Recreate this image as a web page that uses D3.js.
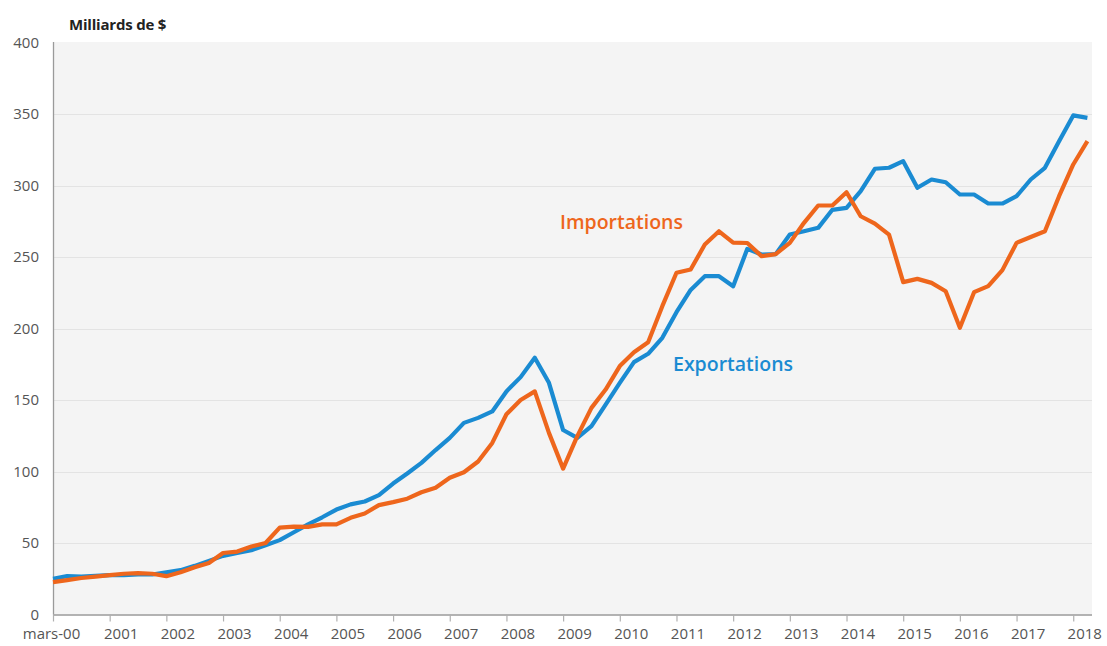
<!DOCTYPE html>
<html>
<head>
<meta charset="utf-8">
<script src="https://cdn.jsdelivr.net/npm/d3@7/dist/d3.min.js"></script>
<style>
  html, body { margin: 0; padding: 0; background: #ffffff; }
  svg { display: block; }
</style>
</head>
<body>
<svg id="chart" width="1107" height="646"></svg>
<script>
// Quarterly periods (March 2000 .. June 2018)
const quarters = [
  "2000-03","2000-06","2000-09","2000-12","2001-03","2001-06","2001-09","2001-12",
  "2002-03","2002-06","2002-09","2002-12","2003-03","2003-06","2003-09","2003-12",
  "2004-03","2004-06","2004-09","2004-12","2005-03","2005-06","2005-09","2005-12",
  "2006-03","2006-06","2006-09","2006-12","2007-03","2007-06","2007-09","2007-12",
  "2008-03","2008-06","2008-09","2008-12","2009-03","2009-06","2009-09","2009-12",
  "2010-03","2010-06","2010-09","2010-12","2011-03","2011-06","2011-09","2011-12",
  "2012-03","2012-06","2012-09","2012-12","2013-03","2013-06","2013-09","2013-12",
  "2014-03","2014-06","2014-09","2014-12","2015-03","2015-06","2015-09","2015-12",
  "2016-03","2016-06","2016-09","2016-12","2017-03","2017-06","2017-09","2017-12",
  "2018-03","2018-06"
];

// Exportations (Milliards de $)
const exportations = [
  25, 26.8, 26.5, 27, 27.5, 27.5, 28, 28,
  29.5, 31, 34, 37.5, 41, 43, 45, 48.5,
  52, 57.5, 63, 68, 73.4, 77, 79, 83.5,
  91.6, 98.6, 106, 115, 123.5, 134, 137.5, 142,
  156, 166, 179.5, 162, 129, 123.5, 131.7, 146.8,
  162, 176.5, 182.3, 193.5, 211.4, 227, 236.6, 236.6,
  229.6, 255.7, 251.7, 252, 265.7, 268, 270.4, 283,
  284.4, 296, 311.7, 312.4, 317, 298.4, 304.2, 302.3,
  293.7, 293.7, 287.4, 287.4, 292.5, 304.2, 312.4, 331,
  349, 347.3
];

// Importations (Milliards de $)
const importations = [
  22.6, 24, 25.5, 26.5, 27.5, 28.5, 29, 28.5,
  26.8, 29.5, 33, 36, 43, 44, 47.5, 50,
  60.8, 61.5, 61.3, 63, 63, 67.6, 70.6, 76.5,
  78.6, 81, 85.5, 88.6, 95.6, 99.5, 107, 120,
  140, 150, 156, 127, 102, 124.7, 144.5, 157.3,
  173.7, 183.4, 190.4, 215.6, 239, 241.3, 258.7, 268,
  260, 259.8, 250.6, 252, 259.9, 273.9, 286, 286,
  295.3, 278.5, 273.4, 265.7, 232.4, 234.7, 231.9, 226,
  200.5, 225.4, 229.6, 240.8, 259.9, 264, 268, 292.5,
  314.7, 331
];

// Axis tick labels
const xTickLabels = ["mars-00","2001","2002","2003","2004","2005","2006","2007","2008","2009",
                     "2010","2011","2012","2013","2014","2015","2016","2017","2018"];
const yTicks = [0, 50, 100, 150, 200, 250, 300, 350, 400];

const unitLabel = "Milliards de $";
const seriesNames = ["Exportations", "Importations"];

// ---------- drawing ----------
(function draw() {
  const svg = d3.select("#chart");
  const blue = "#1a8bd2";
  const orange = "#ee661c";

  const pLeft = 53, pRight = 1092, pTop = 42, pBottom = 614.5;

  const x = d3.scaleLinear().domain([0, quarters.length - 1])
    .range([pLeft, pLeft + 14.17 * (quarters.length - 1)]);
  const y = d3.scaleLinear().domain([0, 400]).range([pBottom, 42.5]);

  // plot background
  svg.append("rect")
    .attr("x", pLeft).attr("y", pTop)
    .attr("width", pRight - pLeft).attr("height", pBottom - pTop)
    .attr("fill", "#f4f4f4");

  // gridlines
  svg.append("g")
    .selectAll("line")
    .data(yTicks.filter(d => d > 0 && d < 400))
    .join("line")
    .attr("x1", pLeft).attr("x2", pRight)
    .attr("y1", d => Math.round(y(d)) + 0.5).attr("y2", d => Math.round(y(d)) + 0.5)
    .attr("stroke", "#e3e3e3").attr("stroke-width", 1.2);

  // y axis labels
  const yAxis = d3.axisLeft(y).tickValues(yTicks).tickSize(0).tickPadding(14);
  const gy = svg.append("g").attr("transform", `translate(${pLeft},0)`).call(yAxis);
  gy.select(".domain").remove();
  gy.selectAll("text")
    .attr("fill", "#555")
    .style("font-family", "'Open Sans', sans-serif")
    .style("font-size", "15px");

  // left axis line
  svg.append("line")
    .attr("x1", pLeft + 0.5).attr("x2", pLeft + 0.5)
    .attr("y1", pTop).attr("y2", pBottom)
    .attr("stroke", "#9a9a9a").attr("stroke-width", 1.3);

  // x axis
  const tickIdx = xTickLabels.map((d, i) => i * 4);
  const xAxis = d3.axisBottom(x).tickValues(tickIdx).tickSize(7).tickPadding(7)
    .tickFormat((d, i) => xTickLabels[i]);
  const gx = svg.append("g").attr("transform", `translate(0,${pBottom})`).call(xAxis);
  gx.select(".domain").attr("d", `M${pLeft},0.5H${pRight}`).attr("stroke", "#9a9a9a").attr("stroke-width", 1.5);
  gx.selectAll(".tick line").attr("stroke", "#b0b0b0").attr("stroke-width", 1.2);
  gx.selectAll("text")
    .attr("fill", "#555")
    .attr("dx", (d, i) => i === 0 ? -2 : 11)
    .style("font-family", "'Open Sans', sans-serif")
    .style("font-size", "15px");

  // unit label
  svg.append("text")
    .attr("x", 69).attr("y", 30)
    .attr("fill", "#222")
    .style("font-family", "'Open Sans', sans-serif")
    .style("font-weight", "700")
    .style("font-size", "15px")
    .style("letter-spacing", "-0.2px")
    .text(unitLabel);

  // lines
  const line = d3.line().x((d, i) => x(i)).y(d => y(d)).curve(d3.curveLinear);

  svg.append("path")
    .datum(exportations)
    .attr("d", line)
    .attr("fill", "none")
    .attr("stroke", blue)
    .attr("stroke-width", 4.2)
    .attr("stroke-linejoin", "round");

  svg.append("path")
    .datum(importations)
    .attr("d", line)
    .attr("fill", "none")
    .attr("stroke", orange)
    .attr("stroke-width", 4.2)
    .attr("stroke-linejoin", "round");

  // series labels
  svg.append("text")
    .attr("x", 560).attr("y", 229)
    .attr("fill", orange)
    .style("font-family", "'Open Sans', sans-serif")
    .style("font-weight", "600")
    .style("font-size", "19.5px")
    .text(seriesNames[1]);

  svg.append("text")
    .attr("x", 673).attr("y", 371)
    .attr("fill", blue)
    .style("font-family", "'Open Sans', sans-serif")
    .style("font-weight", "600")
    .style("font-size", "19.5px")
    .text(seriesNames[0]);
})();
</script>
</body>
</html>
